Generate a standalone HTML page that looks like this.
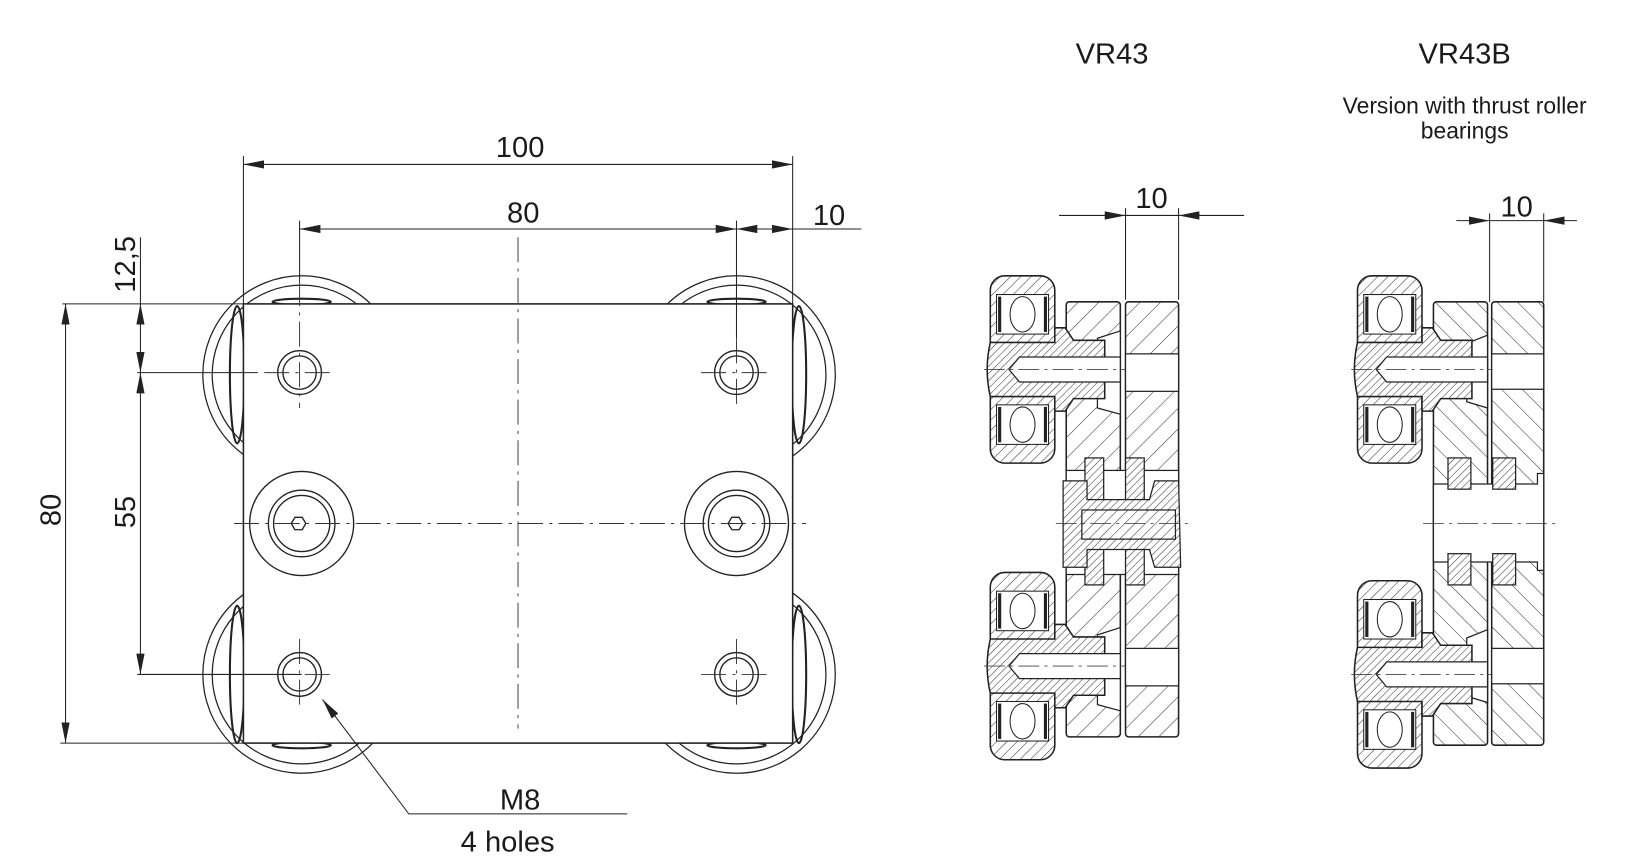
<!DOCTYPE html>
<html><head><meta charset="utf-8"><style>
html,body{margin:0;padding:0;background:#fff;}
svg{display:block;}
text{font-family:"Liberation Sans",sans-serif;fill:#1a1a1a;}
</style></head><body>
<svg width="1629" height="868" viewBox="0 0 1566 834" preserveAspectRatio="none" xmlns="http://www.w3.org/2000/svg">
<defs>
<pattern id="h1" width="14" height="14" patternUnits="userSpaceOnUse" patternTransform="rotate(45)"><rect width="14" height="14" fill="#fff"/><line x1="0" y1="0" x2="0" y2="14" stroke="#333" stroke-width="1"/></pattern>
<pattern id="h2" width="14" height="14" patternUnits="userSpaceOnUse" patternTransform="rotate(-45)"><rect width="14" height="14" fill="#fff"/><line x1="0" y1="0" x2="0" y2="14" stroke="#333" stroke-width="1"/></pattern>
<pattern id="h3" width="5" height="5" patternUnits="userSpaceOnUse" patternTransform="rotate(45)"><rect width="5" height="5" fill="#fff"/><line x1="0" y1="0" x2="0" y2="5" stroke="#333" stroke-width="1"/></pattern>
<pattern id="h4" width="7" height="7" patternUnits="userSpaceOnUse" patternTransform="rotate(45)"><rect width="7" height="7" fill="#fff"/><line x1="0" y1="0" x2="0" y2="7" stroke="#333" stroke-width="1"/></pattern>
<marker id="ar" viewBox="0 0 20 8" refX="20" refY="4" markerWidth="20" markerHeight="8" markerUnits="userSpaceOnUse" orient="auto-start-reverse"><path d="M0,0 L20,4 L0,8 z" fill="#222"/></marker>
<g id="roller">
<rect x="0" y="0" width="62" height="180" rx="14" fill="url(#h4)" stroke="#222" stroke-width="1.5"/>
<rect x="6" y="18" width="50" height="38" fill="#fff" stroke="#222"/>
<rect x="6" y="124" width="50" height="38" fill="#fff" stroke="#222"/>
<ellipse cx="31" cy="37" rx="12" ry="17" fill="#fff" stroke="#222"/>
<ellipse cx="31" cy="143" rx="12" ry="17" fill="#fff" stroke="#222"/>
<line x1="9" y1="20" x2="9" y2="54" stroke="#222" stroke-width="3"/><line x1="53" y1="20" x2="53" y2="54" stroke="#222" stroke-width="3"/>
<line x1="9" y1="126" x2="9" y2="160" stroke="#222" stroke-width="3"/><line x1="53" y1="126" x2="53" y2="160" stroke="#222" stroke-width="3"/>
<path d="M0,64 L62,64 L62,50 L72,50 L80,62 L110,62 L110,118 L80,118 L72,130 L62,130 L62,116 L0,116 Q-6,90 0,64 z" fill="url(#h3)" stroke="#222" stroke-width="1.5"/>
<path d="M28,78 L125,78 L125,102 L28,102 L18,90 z" fill="#fff" stroke="#222" stroke-width="1.2"/>
<line x1="-6" y1="90" x2="130" y2="90" stroke="#444" stroke-width="0.8" stroke-dasharray="20,5,3,5"/>
</g>
</defs>

<!-- LEFT VIEW -->
<g fill="none" stroke="#222" stroke-width="1.2">
<circle cx="290" cy="360" r="95"/><circle cx="290" cy="360" r="86"/>
<circle cx="708" cy="360" r="95"/><circle cx="708" cy="360" r="86"/>
<circle cx="290" cy="648" r="95"/><circle cx="290" cy="648" r="86"/>
<circle cx="708" cy="648" r="95"/><circle cx="708" cy="648" r="86"/>
<ellipse cx="228" cy="360" rx="7" ry="66" stroke-width="2"/>
<ellipse cx="768" cy="360" rx="7" ry="66" stroke-width="2"/>
<ellipse cx="228" cy="648" rx="7" ry="66" stroke-width="2"/>
<ellipse cx="768" cy="648" rx="7" ry="66" stroke-width="2"/>
<ellipse cx="290" cy="290" rx="28" ry="3" stroke-width="2"/><ellipse cx="708" cy="290" rx="28" ry="3" stroke-width="2"/>
<ellipse cx="290" cy="716" rx="28" ry="3" stroke-width="2"/><ellipse cx="708" cy="716" rx="28" ry="3" stroke-width="2"/>
</g>
<rect x="234" y="292" width="528" height="422" fill="#fff" stroke="#222" stroke-width="1.5"/>
<g fill="#fff" stroke="#222" stroke-width="1.3">
<circle cx="290" cy="503" r="50"/><circle cx="290" cy="503" r="32"/><circle cx="290" cy="503" r="27"/>
<path d="M283,503 l3.5,-6 h7 l3.5,6 l-3.5,6 h-7 z" transform="translate(-3,0)"/>
<circle cx="708" cy="503" r="50"/><circle cx="708" cy="503" r="32"/><circle cx="708" cy="503" r="27"/>
<path d="M700,503 l3.5,-6 h7 l3.5,6 l-3.5,6 h-7 z"/>
<circle cx="288" cy="358" r="21"/><circle cx="288" cy="358" r="16"/>
<circle cx="708" cy="358" r="21"/><circle cx="708" cy="358" r="16"/>
<circle cx="288" cy="648" r="21"/><circle cx="288" cy="648" r="16"/>
<circle cx="708" cy="648" r="21"/><circle cx="708" cy="648" r="16"/>
</g>
<g stroke="#333" stroke-width="0.9" stroke-dasharray="24,6,3,6" fill="none">
<line x1="498" y1="228" x2="498" y2="700"/>
<line x1="225" y1="503" x2="775" y2="503"/>
<line x1="288" y1="270" x2="288" y2="392"/><line x1="254" y1="358" x2="322" y2="358"/>
<line x1="708" y1="325" x2="708" y2="392"/><line x1="674" y1="358" x2="742" y2="358"/>
<line x1="288" y1="614" x2="288" y2="682"/><line x1="254" y1="648" x2="322" y2="648"/>
<line x1="708" y1="614" x2="708" y2="682"/><line x1="674" y1="648" x2="742" y2="648"/>
</g>
<g stroke="#222" stroke-width="1" fill="none">
<line x1="234" y1="150" x2="234" y2="292"/><line x1="762" y1="150" x2="762" y2="292"/>
<line x1="234" y1="158" x2="762" y2="158" marker-start="url(#ar)" marker-end="url(#ar)"/>
<line x1="288" y1="212" x2="288" y2="270"/><line x1="708" y1="212" x2="708" y2="325"/>
<line x1="288" y1="220" x2="708" y2="220" marker-start="url(#ar)" marker-end="url(#ar)"/>
<line x1="708" y1="220" x2="762" y2="220" marker-start="url(#ar)" marker-end="url(#ar)"/>
<line x1="762" y1="220" x2="828" y2="220"/>
<line x1="60" y1="292" x2="234" y2="292"/><line x1="58" y1="714" x2="234" y2="714"/>
<line x1="132" y1="358" x2="248" y2="358"/><line x1="132" y1="648" x2="290" y2="648"/>
<line x1="63" y1="292" x2="63" y2="714" marker-start="url(#ar)" marker-end="url(#ar)"/>
<line x1="135" y1="228" x2="135" y2="292"/>
<line x1="135" y1="292" x2="135" y2="358" marker-start="url(#ar)" marker-end="url(#ar)"/>
<line x1="135" y1="358" x2="135" y2="648" marker-start="url(#ar)" marker-end="url(#ar)"/>
<polyline points="603,782 393,782 310,672" marker-end="url(#ar)"/>
</g>
<g font-size="28">
<text x="500" y="151" text-anchor="middle">100</text>
<text x="503" y="214" text-anchor="middle">80</text>
<text x="797" y="216" text-anchor="middle">10</text>
<text x="500" y="778" text-anchor="middle">M8</text>
<text x="488" y="818" text-anchor="middle">4 holes</text>
<text transform="translate(58,490) rotate(-90)" text-anchor="middle">80</text>
<text transform="translate(130,492) rotate(-90)" text-anchor="middle">55</text>
<text transform="translate(130,254) rotate(-90)" text-anchor="middle">12,5</text>
</g>

<g font-size="28" text-anchor="middle">
<text x="1069" y="61">VR43</text>
<text x="1408" y="61">VR43B</text>
</g>
<g font-size="22" text-anchor="middle">
<text x="1408" y="109">Version with thrust roller</text>
<text x="1408" y="133">bearings</text>
</g>

<g stroke="#222" stroke-width="1" fill="none">
<line x1="1082" y1="200" x2="1082" y2="288"/><line x1="1133" y1="200" x2="1133" y2="288"/>
<line x1="1018" y1="207" x2="1082" y2="207" marker-end="url(#ar)"/>
<line x1="1196" y1="207" x2="1133" y2="207" marker-end="url(#ar)"/>
<line x1="1082" y1="207" x2="1133" y2="207"/>
<line x1="1400" y1="212" x2="1432" y2="212" marker-end="url(#ar)"/>
<line x1="1516" y1="212" x2="1484" y2="212" marker-end="url(#ar)"/>
<line x1="1432" y1="212" x2="1484" y2="212"/>
<line x1="1432" y1="205" x2="1432" y2="290"/><line x1="1484" y1="205" x2="1484" y2="290"/>
</g>
<g font-size="28" text-anchor="middle"><text x="1107" y="200">10</text><text x="1458" y="208">10</text></g>

<rect x="1025" y="290" width="52" height="418" rx="3" fill="url(#h1)" stroke="#222" stroke-width="1.5"/>
<rect x="1082" y="290" width="51" height="418" rx="3" fill="url(#h1)" stroke="#222" stroke-width="1.5"/>
<g fill="#fff" stroke="#222" stroke-width="1.2">
<rect x="1082" y="340" width="51" height="36"/><rect x="1082" y="623" width="51" height="36"/>
<path d="M1055,325 L1077,318 L1077,398 L1055,392 z"/>
<path d="M1055,610 L1077,603 L1077,683 L1055,677 z"/>
<rect x="1025" y="452" width="108" height="100" fill="#fff"/>
<rect x="1043" y="440" width="18" height="122" fill="url(#h3)"/>
<rect x="1082" y="440" width="18" height="122" fill="url(#h3)"/>
<path d="M1022,462 L1045,462 L1045,480 L1105,480 L1110,462 L1133,462 L1135,545 L1110,545 L1105,528 L1045,528 L1045,545 L1022,545 z" fill="url(#h3)"/>
<rect x="1040" y="490" width="90" height="28" fill="url(#h4)"/>
</g>
<use href="#roller" x="952" y="265"/>
<use href="#roller" x="952" y="550"/>
<line x1="1015" y1="503" x2="1145" y2="503" stroke="#333" stroke-width="0.8" stroke-dasharray="20,5,3,5"/>

<rect x="1378" y="290" width="52" height="426" rx="3" fill="url(#h2)" stroke="#222" stroke-width="1.5"/>
<rect x="1434" y="290" width="50" height="426" rx="3" fill="url(#h2)" stroke="#222" stroke-width="1.5"/>
<g fill="#fff" stroke="#222" stroke-width="1.2">
<rect x="1434" y="340" width="50" height="34"/><rect x="1434" y="623" width="50" height="34"/>
<path d="M1410,330 L1430,322 L1430,392 L1410,386 z"/>
<path d="M1410,613 L1430,605 L1430,675 L1410,669 z"/>
<path d="M1378,465 L1478,465 L1478,455 L1484,455 L1484,548 L1478,548 L1478,540 L1378,540 z"/>
<rect x="1392" y="440" width="22" height="30" fill="url(#h3)"/>
<rect x="1435" y="440" width="22" height="30" fill="url(#h3)"/>
<rect x="1392" y="532" width="22" height="30" fill="url(#h3)"/>
<rect x="1435" y="532" width="22" height="30" fill="url(#h3)"/>
</g>
<use href="#roller" x="1305" y="265"/>
<use href="#roller" x="1305" y="558"/>
<line x1="1368" y1="503" x2="1500" y2="503" stroke="#333" stroke-width="0.8" stroke-dasharray="20,5,3,5"/>
</svg>
</body></html>
